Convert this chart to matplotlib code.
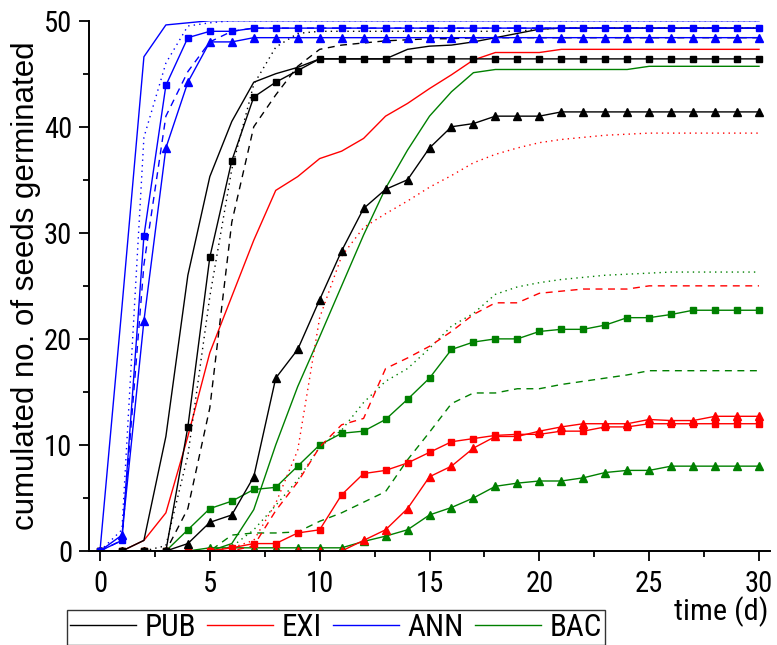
import matplotlib
matplotlib.use("Agg")
import matplotlib.pyplot as plt
from matplotlib.lines import Line2D
from matplotlib.ticker import MultipleLocator
from matplotlib import font_manager

days = list(range(31))

# PUB (black)
pub_solid = [0, 0, 1.0, 10.8, 26, 35.3, 40.5, 44.2, 45.0, 45.6, 46.4, 46.4, 46.4, 46.4, 47.3, 47.6, 47.7,
             48.0, 48.4, 48.8, 49.2, 49.3, 49.3, 49.3, 49.3, 49.3, 49.3, 49.3, 49.3, 49.3, 49.3]
pub_dashed = [0, 0, 0, 0, 4.0, 13.5, 31.0, 40.0, 43.0, 45.7, 47.3, 47.7, 47.9, 48.1, 48.2, 48.3, 48.3,
              48.4, 48.4, 48.4, 48.4, 48.4, 48.4, 48.4, 48.4, 48.4, 48.4, 48.4, 48.4, 48.4, 48.4]
pub_dotted = [0, 0, 0, 0.5, 9.0, 24.0, 36.0, 44.0, 47.5, 48.8, 49.0, 49.0, 49.0, 49.0, 49.0, 49.0, 49.0,
              49.0, 49.0, 49.0, 49.2, 49.3, 49.3, 49.3, 49.3, 49.3, 49.3, 49.3, 49.3, 49.3, 49.3]
pub_sq = [0, 0, 0, 0, 11.7, 27.7, 36.8, 42.8, 44.2, 45.3, 46.4, 46.4, 46.4, 46.4, 46.4, 46.4, 46.4,
          46.4, 46.4, 46.4, 46.4, 46.4, 46.4, 46.4, 46.4, 46.4, 46.4, 46.4, 46.4, 46.4, 46.4]
pub_tri = [0, 0, 0, 0, 0.7, 2.7, 3.4, 7.0, 16.3, 19.0, 23.7, 28.3, 32.3, 34.1, 35.0, 38.0, 40.0,
           40.3, 41.0, 41.0, 41.0, 41.4, 41.4, 41.4, 41.4, 41.4, 41.4, 41.4, 41.4, 41.4, 41.4]

# EXI (red)
exi_solid = [0, 0, 1.0, 3.6, 10.8, 18.7, 24.0, 29.3, 34.0, 35.3, 37.0, 37.7, 38.9, 41.0, 42.2, 43.6, 44.9,
             46.3, 47.0, 47.0, 47.0, 47.3, 47.3, 47.3, 47.3, 47.3, 47.3, 47.3, 47.3, 47.3, 47.3]
exi_dashed = [0, 0, 0, 0, 0, 0, 0, 0.5, 3.8, 6.5, 9.8, 11.9, 12.5, 17.2, 18.2, 19.3, 20.7,
              22.3, 23.4, 23.4, 24.3, 24.5, 24.7, 24.7, 24.7, 25.0, 25.0, 25.0, 25.0, 25.0, 25.0]
exi_dotted = [0, 0, 0, 0, 0, 0, 0.3, 1.0, 4.5, 9.5, 22.0, 27.8, 30.5, 31.8, 33.0, 34.3, 35.4,
              36.6, 37.4, 38.0, 38.5, 38.8, 39.0, 39.2, 39.3, 39.4, 39.4, 39.4, 39.4, 39.4, 39.4]
exi_sq = [0, 0, 0, 0, 0, 0, 0.3, 0.7, 0.7, 1.7, 2.0, 5.3, 7.3, 7.6, 8.3, 9.3, 10.3,
          10.6, 10.9, 11.0, 11.0, 11.3, 11.3, 11.7, 11.7, 12.0, 12.0, 12.0, 12.0, 12.0, 12.0]
exi_tri = [0, 0, 0, 0, 0, 0, 0, 0, 0, 0, 0, 0, 1.0, 2.0, 4.0, 7.0, 8.0,
           9.7, 10.8, 10.8, 11.3, 11.7, 12.0, 12.0, 12.0, 12.4, 12.3, 12.3, 12.7, 12.7, 12.7]

# ANN (blue)
ann_solid = [0, 23.0, 46.6, 49.6, 49.8, 50, 50, 50, 50, 50, 50, 50, 50, 50, 50, 50, 50,
             50, 50, 50, 50, 50, 50, 50, 50, 50, 50, 50, 50, 50, 50]
ann_dashed = [0, 1.0, 27.0, 41.0, 45.2, 48.0, 49.0, 49.3, 49.3, 49.3, 49.3, 49.3, 49.3, 49.3, 49.3, 49.3, 49.3,
              49.3, 49.3, 49.3, 49.3, 49.3, 49.3, 49.3, 49.3, 49.3, 49.3, 49.3, 49.3, 49.3, 49.3]
ann_dotted = [0, 2.0, 39.0, 46.0, 49.5, 49.8, 50, 50, 50, 50, 50, 50, 50, 50, 50, 50, 50,
              50, 50, 50, 50, 50, 50, 50, 50, 50, 50, 50, 50, 50, 50]
ann_sq = [0, 1.0, 29.7, 43.9, 48.4, 49.0, 49.0, 49.3, 49.3, 49.3, 49.3, 49.3, 49.3, 49.3, 49.3, 49.3, 49.3,
          49.3, 49.3, 49.3, 49.3, 49.3, 49.3, 49.3, 49.3, 49.3, 49.3, 49.3, 49.3, 49.3, 49.3]
ann_tri = [0, 1.5, 21.7, 38.0, 44.2, 48.0, 48.0, 48.4, 48.4, 48.4, 48.4, 48.4, 48.4, 48.4, 48.4, 48.4, 48.4,
           48.4, 48.4, 48.4, 48.4, 48.4, 48.4, 48.4, 48.4, 48.4, 48.4, 48.4, 48.4, 48.4, 48.4]

# BAC (green)
bac_solid = [0, 0, 0, 0, 0, 0, 0.7, 3.9, 10.0, 15.5, 20.2, 25.0, 29.8, 34.2, 37.8, 41.0, 43.3,
             45.1, 45.4, 45.4, 45.4, 45.4, 45.4, 45.4, 45.4, 45.7, 45.7, 45.7, 45.7, 45.7, 45.7]
bac_dashed = [0, 0, 0, 0, 0, 0, 1.5, 1.7, 1.7, 1.8, 2.8, 3.6, 4.6, 5.6, 8.6, 11.2, 13.9,
              14.9, 14.9, 15.3, 15.3, 15.7, 16.0, 16.3, 16.6, 17.0, 17.0, 17.0, 17.0, 17.0, 17.0]
bac_dotted = [0, 0, 0, 0, 0, 0, 0.4, 2.0, 4.3, 6.7, 9.8, 11.4, 14.0, 16.0, 17.2, 19.1, 21.2,
              22.4, 24.2, 24.9, 25.3, 25.6, 25.8, 26.0, 26.1, 26.2, 26.3, 26.3, 26.3, 26.3, 26.3]
bac_sq = [0, 0, 0, 0, 2.0, 4.0, 4.7, 5.8, 6.0, 8.0, 10.0, 11.1, 11.3, 12.4, 14.3, 16.3, 19.0,
          19.7, 20.0, 20.0, 20.7, 20.9, 20.9, 21.3, 22.0, 22.0, 22.3, 22.7, 22.7, 22.7, 22.7]
bac_tri = [0, 0, 0, 0, 0, 0.3, 0.3, 0.3, 0.3, 0.3, 0.3, 0.3, 0.9, 1.4, 2.0, 3.4, 4.1,
           5.0, 6.1, 6.4, 6.6, 6.6, 6.9, 7.4, 7.6, 7.6, 8.0, 8.0, 8.0, 8.0, 8.0]

groups = ["PUB", "EXI", "ANN", "BAC"]
colors = {"PUB": "#000000", "EXI": "#ff0000", "ANN": "#0000ff", "BAC": "#008000"}
series = {
    "PUB": (pub_solid, pub_dashed, pub_dotted, pub_sq, pub_tri),
    "EXI": (exi_solid, exi_dashed, exi_dotted, exi_sq, exi_tri),
    "ANN": (ann_solid, ann_dashed, ann_dotted, ann_sq, ann_tri),
    "BAC": (bac_solid, bac_dashed, bac_dotted, bac_sq, bac_tri),
}

# pick a narrow sans font if one is installed, else Liberation Sans
narrow_fp = None
pref = ["Liberation Sans Narrow", "Arial Narrow", "Roboto Condensed", "Open Sans Condensed",
        "Noto Sans Condensed", "Noto Sans SemiCondensed"]
entries = font_manager.fontManager.ttflist
for p in pref:
    for f in entries:
        if f.name == p and f.style == "normal" and f.weight in (400, "normal", "regular"):
            narrow_fp = font_manager.FontProperties(fname=f.fname)
            break
    if narrow_fp is not None:
        break
if narrow_fp is None:
    for f in entries:
        if (f.stretch in ("condensed", "semi-condensed") and f.style == "normal"
                and f.weight in (400, "normal", "regular") and "Sans" in f.name and "Mono" not in f.name
                and "CJK" not in f.name):
            narrow_fp = font_manager.FontProperties(fname=f.fname)
            break

plt.rcParams["font.family"] = ["Liberation Sans", "DejaVu Sans"]

def fp(size, narrow=True):
    if narrow and narrow_fp is not None:
        p = narrow_fp.copy()
        p.set_size(size * 1.18)
        return p
    return font_manager.FontProperties(family=["Liberation Sans", "DejaVu Sans"], size=size)

fig = plt.figure(figsize=(7.77, 6.45), dpi=100)
ax = fig.add_axes([89 / 777, 94 / 645, (770 - 89) / 777, (551 - 20.7) / 645])

lw = 1.0
for g in ["BAC", "EXI", "PUB", "ANN"]:
    c = colors[g]
    s, d, o, sq, tr = series[g]
    ax.plot(days, s, color=c, lw=lw, ls="-")
    ax.plot(days, d, color=c, lw=lw, ls=(0, (5, 4)))
    ax.plot(days, o, color=c, lw=lw, ls=(0, (1, 3)))
    ax.plot(days, sq, color=c, lw=lw, ls="-", marker="s", markersize=5, mec=c, mfc=c)
    ax.plot(days, tr, color=c, lw=lw, ls="-", marker="^", markersize=6, mec=c, mfc=c)

ax.set_xlim(-0.5, 30.5)
ax.set_ylim(0, 50)
for side in ["top", "right"]:
    ax.spines[side].set_visible(False)
for side in ["left", "bottom"]:
    ax.spines[side].set_linewidth(1.4)
ax.xaxis.set_major_locator(MultipleLocator(5))
ax.xaxis.set_minor_locator(MultipleLocator(2.5))
ax.yaxis.set_major_locator(MultipleLocator(10))
ax.yaxis.set_minor_locator(MultipleLocator(5))
ax.tick_params(which="major", direction="out", length=7, width=1.3)
ax.tick_params(axis="x", which="major", pad=7)
ax.tick_params(axis="y", which="major", pad=5)
ax.tick_params(which="minor", direction="out", length=4, width=1.3)
for lab in ax.get_xticklabels() + ax.get_yticklabels():
    lab.set_fontproperties(fp(17.5))

ax.set_ylabel("cumulated no. of seeds germinated",
              fontproperties=fp(22.5, narrow=False), labelpad=2)
fig.text(768 / 777, 1 - 612 / 645, "time (d)", fontproperties=fp(18.5), ha="right", va="center")

handles = [Line2D([0], [0], color=colors[g], lw=1.0) for g in groups]
leg = fig.legend(handles, groups, loc="upper left", bbox_to_anchor=(67 / 777, 1 - 610 / 645),
                 ncol=4, prop=fp(19), frameon=True, fancybox=False, edgecolor="black",
                 handlelength=2.1, handletextpad=0.3, columnspacing=0.35, borderpad=0.1,
                 borderaxespad=0)
leg.get_frame().set_linewidth(1.0)

fig.savefig("out.png", dpi=100)
